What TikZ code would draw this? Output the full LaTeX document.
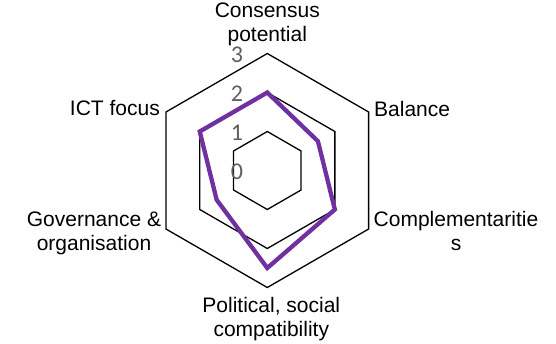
\documentclass[tikz,border=0pt]{standalone}
\usepackage{fontspec}
\setmainfont{Liberation Sans}
\newfontfamily\tickfont{Carlito}
\definecolor{radarpurple}{RGB}{112,48,160}
\definecolor{tickgray}{RGB}{95,95,95}
\tikzset{
  gridline/.style={draw=black, line width=1.3pt, line join=miter},
  dataline/.style={draw=radarpurple, line width=4.3pt, line join=miter},
  catlabel/.style={font=\fontsize{21}{24}\selectfont, align=center, inner sep=0pt},
  ticklabel/.style={font=\tickfont\fontsize{24}{26}\selectfont, text=tickgray, inner sep=0pt, anchor=east}
}

\begin{document}
\begin{tikzpicture}[x=1pt, y=1pt]
  \useasboundingbox (-267.3,-172.5) rectangle (288.7,170.5);
  % Grid rings
  \foreach \r in {1,2,3}
    \draw[gridline] (90:\r*39) -- (30:\r*39) -- (-30:\r*39) -- (-90:\r*39) -- (-150:\r*39) -- (150:\r*39) -- cycle;
  % Data points
  \foreach \a/\v [count=\i] in {90/2, 30/1.5, -30/2, -90/2.5, -150/1.5, 150/2}
    \coordinate (val-\i) at (\a:\v*39);
  \draw[dataline] (val-1) -- (val-2) -- (val-3) -- (val-4) -- (val-5) -- (val-6) -- cycle;
  % Axis values
  \foreach \v in {0,...,3}
    \node[ticklabel] (tick-\v) at (-24, \v*39 - 1) {\v};
  % Category labels
  \node[catlabel, anchor=south] (cat-consensus) at (0, 124) {Consensus\\potential};
  \node[catlabel, anchor=base west] (cat-balance) at (106.7, 54.5) {Balance};
  \node[catlabel, anchor=north] (cat-complement) at (188.7, -40.9) {Complementaritie\\s};
  \node[catlabel, anchor=north] (cat-political) at (4, -126.2) {Political, social\\compatibility};
  \node[catlabel, anchor=north] (cat-governance) at (-173.3, -40.9) {Governance \&\\organisation};
  \node[catlabel, anchor=base east] (cat-ict) at (-107.3, 55.5) {ICT focus};
\end{tikzpicture}
\end{document}
